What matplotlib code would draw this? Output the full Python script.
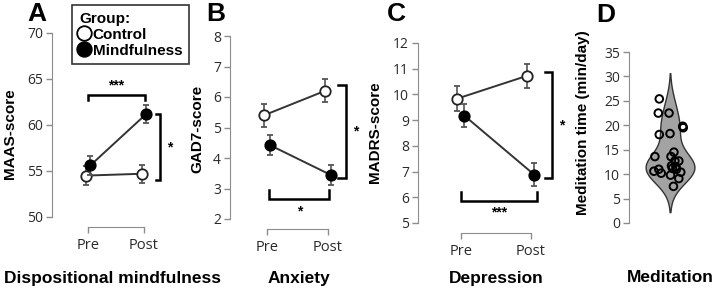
import matplotlib
matplotlib.use("Agg")
import matplotlib.pyplot as plt
from matplotlib.lines import Line2D
import seaborn as sns

# data
fases = ["Pre", "Post"]

maas_control = [54.5, 54.7]
maas_control_err = [1.0, 1.0]
maas_mind = [55.6, 61.2]
maas_mind_err = [1.0, 1.0]

gad7_control = [5.4, 6.2]
gad7_control_err = [0.38, 0.38]
gad7_mind = [4.42, 3.44]
gad7_mind_err = [0.32, 0.32]

madrs_control = [9.84, 10.73]
madrs_control_err = [0.47, 0.47]
madrs_mind = [9.17, 6.87]
madrs_mind_err = [0.45, 0.45]

meditacion = [25.4, 22.5, 22.5, 19.8, 19.5, 18.1, 18.3, 13.6, 14.5, 13.6,
              11.0, 10.6, 10.2, 12.7, 12.7, 11.7, 11.5, 10.4, 9.8, 9.1,
              7.5, 11.2, 11.0]
meditacion_jitter = [-0.22, -0.24, -0.02, 0.26, 0.27, -0.22, 0.0, -0.31, 0.08, 0.02,
                     -0.23, -0.33, -0.18, 0.10, 0.18, 0.03, 0.12, 0.22, 0.01, 0.18,
                     0.07, 0.05, 0.13]

W, H = 713, 292
GRIS = "#8c8c8c"
LINEA = "#333333"
TICKFONT = "Open Sans"
BOLD = "Liberation Sans"

fig = plt.figure(figsize=(W / 100, H / 100), dpi=100)


def caja(x0, x1, ytop, ybot):
    return [x0 / W, 1 - ybot / H, (x1 - x0) / W, (ybot - ytop) / H]


def estilo_ejes(ax, yticks, abajo=True):
    for s in ["top", "right"]:
        ax.spines[s].set_visible(False)
    ax.spines["left"].set_color(GRIS)
    ax.spines["left"].set_bounds(yticks[0], yticks[-1])
    ax.set_yticks(yticks)
    ax.set_ylim(yticks[0], yticks[-1])
    ax.tick_params(axis="y", color=GRIS, length=4.5, width=1, pad=2,
                   labelsize=10, labelcolor="#2a2a2a")
    for t in ax.get_yticklabels():
        t.set_fontfamily(TICKFONT)
    if abajo:
        ax.spines["bottom"].set_color(GRIS)
        ax.spines["bottom"].set_position(("outward", 7.5))
        ax.spines["bottom"].set_bounds(0, 1)
        ax.set_xticks([0, 1])
        ax.set_xticklabels(fases)
        ax.tick_params(axis="x", color=GRIS, length=4.5, width=1, pad=3,
                       labelsize=10.5, labelcolor="#2a2a2a")
        for t in ax.get_xticklabels():
            t.set_fontfamily(TICKFONT)
    else:
        ax.spines["bottom"].set_visible(False)
        ax.set_xticks([])


def lineas(ax, control, control_err, mind, mind_err, d):
    xc = [0 - d, 1 - d]
    xm = [0 + d, 1 + d]
    ax.errorbar(xc, control, yerr=control_err, color=LINEA, lw=1.4, ecolor="#555555",
                elinewidth=1.2, capsize=2.5, capthick=1.2, marker="o", ms=7.5,
                mfc="white", mec="#222222", mew=1.3, zorder=3, clip_on=False)
    ax.errorbar(xm, mind, yerr=mind_err, color=LINEA, lw=1.4, ecolor="#555555",
                elinewidth=1.2, capsize=2.5, capthick=1.2, marker="o", ms=7.5,
                mfc="black", mec="black", mew=1.3, zorder=4, clip_on=False)


def corchete_h(ax, x0, x1, y, ypata, texto, ytexto):
    ax.plot([x0, x0, x1, x1], [ypata, y, y, ypata], color="black", lw=1.8,
            clip_on=False, solid_joinstyle="miter")
    ax.text((x0 + x1) / 2, ytexto, texto, ha="center", va="center",
            fontsize=10, fontweight="bold", family=BOLD)


def corchete_v(ax, x, xpata, y0, y1, texto, xtexto):
    ax.plot([xpata, x, x, xpata], [y0, y0, y1, y1], color="black", lw=1.8,
            clip_on=False, solid_joinstyle="miter")
    ax.text(xtexto, (y0 + y1) / 2, texto, ha="center", va="center",
            fontsize=10, fontweight="bold", family=BOLD)


# A
axA = fig.add_axes(caja(52, 177.6, 33, 217))
axA.set_xlim(-0.643, 1.6)
estilo_ejes(axA, [50, 55, 60, 65, 70])
lineas(axA, maas_control, maas_control_err, maas_mind, maas_mind_err, 0.04)
corchete_h(axA, 0.0, 1.02, 63.3, 62.7, "***", 64.3)
corchete_v(axA, 1.29, 1.21, 54.0, 61.2, "*", 1.46)

# B
axB = fig.add_axes(caja(230, 364.6, 36, 219))
axB.set_xlim(-0.607, 1.6)
estilo_ejes(axB, [2, 3, 4, 5, 6, 7, 8])
lineas(axB, gad7_control, gad7_control_err, gad7_mind, gad7_mind_err, 0.05)
corchete_h(axB, 0.04, 1.02, 2.65, 2.95, "*", 2.25)
corchete_v(axB, 1.30, 1.16, 3.33, 6.39, "*", 1.45)

# C
axC = fig.add_axes(caja(418, 566, 43, 223))
axC.set_xlim(-0.614, 1.5)
estilo_ejes(axC, [5, 6, 7, 8, 9, 10, 11, 12])
lineas(axC, madrs_control, madrs_control_err, madrs_mind, madrs_mind_err, 0.05)
corchete_h(axC, 0.0, 1.08, 5.86, 6.22, "***", 5.42)
corchete_v(axC, 1.30, 1.20, 6.74, 10.88, "*", 1.44)

# D
axD = fig.add_axes(caja(629, 713, 52, 223))
sns.violinplot(y=meditacion, ax=axD, cut=2, inner=None, color="#a3a3a3",
               linecolor="#333333", linewidth=1, width=1.0, saturation=1)
axD.scatter(meditacion_jitter, meditacion, s=30, facecolors="none",
            edgecolors="black", linewidths=1.4, zorder=5)
axD.set_xlim(-0.84, 0.88)
estilo_ejes(axD, [0, 5, 10, 15, 20, 25, 30, 35], abajo=False)
axD.set_ylim(0, 35)
axD.set_ylabel("")

# textos
ylabels = [("MAAS-score", 10, 134), ("GAD7-score", 197, 129),
           ("MADRS-score", 375, 132), ("Meditation time (min/day)", 583, 123)]
for txt, x, y in ylabels:
    fig.text(x / W, 1 - y / H, txt, rotation=90, ha="center", va="center",
             fontsize=11, fontweight="bold", family=BOLD)

letras = [("A", 37, 14), ("B", 216, 14), ("C", 396, 14), ("D", 606, 15)]
for txt, x, y in letras:
    fig.text(x / W, 1 - y / H, txt, ha="center", va="center",
             fontsize=19, fontweight="bold", family=BOLD)

titulos = [("Dispositional mindfulness", 112), ("Anxiety", 299),
           ("Depression", 496), ("Meditation", 670)]
for txt, x in titulos:
    fig.text(x / W, 1 - 278 / H, txt, ha="center", va="center",
             fontsize=12.5, fontweight="bold", family=BOLD)

# leyenda
handles = [Line2D([], [], ls="none", marker="o", ms=10.5, mfc="white", mec="black", mew=1.3),
           Line2D([], [], ls="none", marker="o", ms=10.5, mfc="black", mec="black", mew=1.3)]
leg = fig.legend(handles, ["Control", "Mindfulness"], title="Group:",
                 loc="upper left", bbox_to_anchor=(72 / W, 1 - 5 / H),
                 frameon=True, fancybox=False, edgecolor="black",
                 handlelength=0.7, handletextpad=0.2, borderpad=0.45,
                 labelspacing=0.12, borderaxespad=0, alignment="left",
                 prop={"family": BOLD, "weight": "bold", "size": 11},
                 title_fontproperties={"family": BOLD, "weight": "bold", "size": 11})
leg.get_frame().set_linewidth(1.2)

fig.savefig("out.png", dpi=100)
